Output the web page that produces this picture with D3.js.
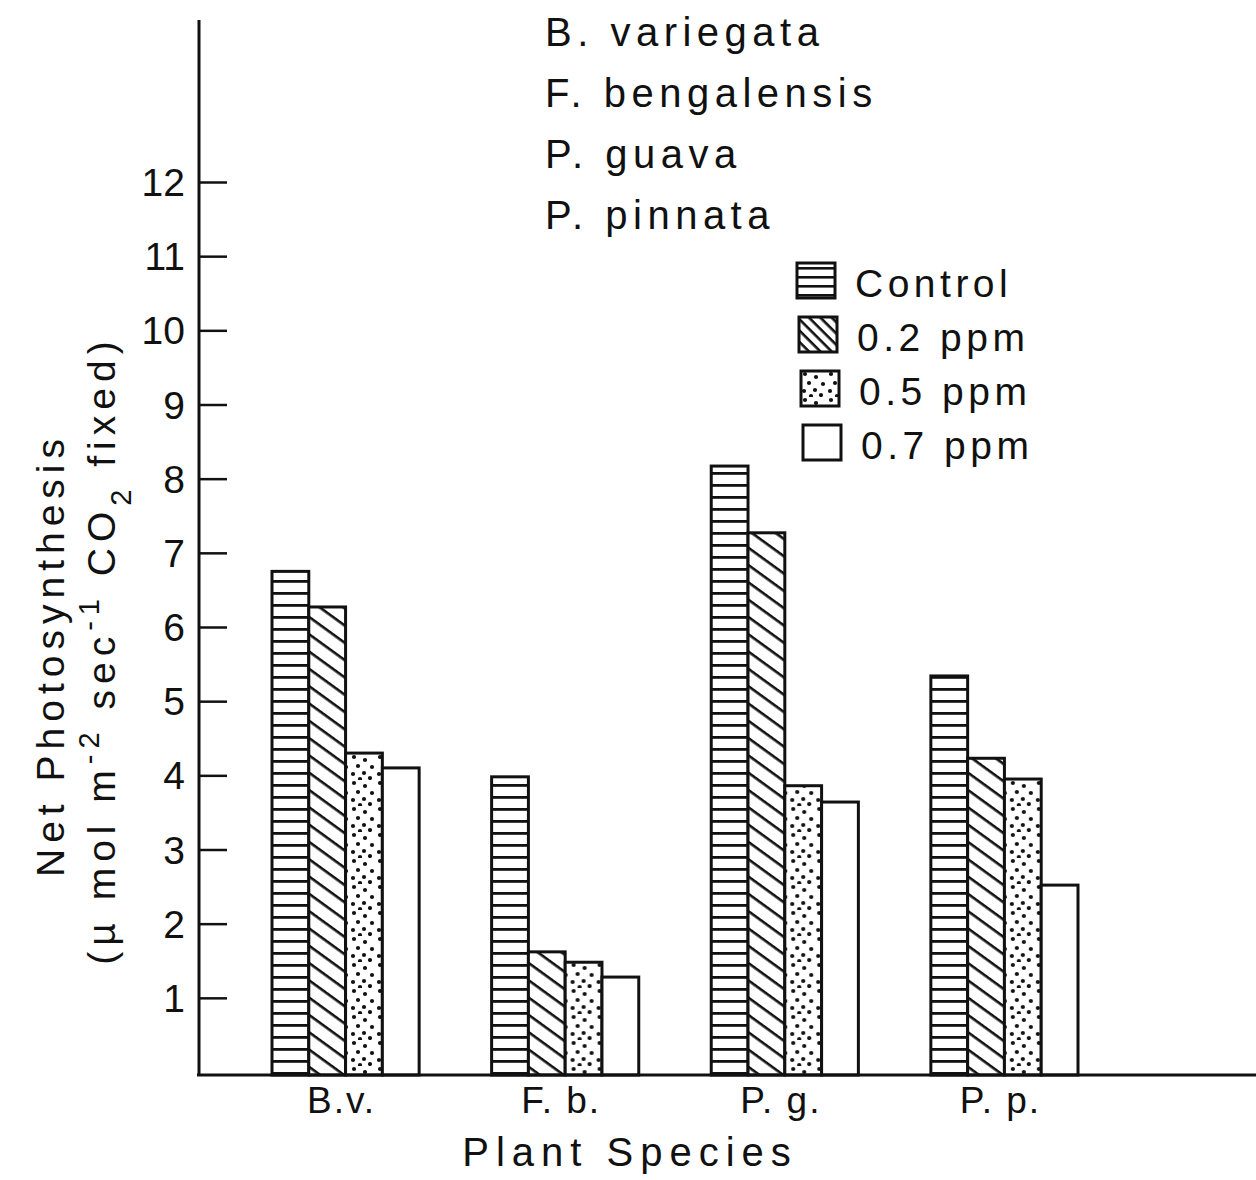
<!DOCTYPE html>
<html>
<head>
<meta charset="utf-8">
<script src="https://cdn.jsdelivr.net/npm/d3@7"></script>
<style>
    body { margin: 0; background: #fff; }
    text { font-family: "Liberation Sans", "DejaVu Sans", sans-serif; fill: #111; }
</style>
</head>
<body>
<div id="chart"></div>
<script>
var species = ["B.v.", "F.b.", "P.g.", "P.p."];
var speciesLabels = ["B.v.", "F. b.", "P. g.", "P. p."];
var speciesNames = ["B. variegata", "F. bengalensis", "P. guava", "P. pinnata"];
var concentrations = ["Control", "0.2 ppm", "0.5 ppm", "0.7 ppm"];
var legendLabels = ["Control", "0.2 ppm", "0.5 ppm", "0.7 ppm"];

var controlValues = [6.75, 3.98, 8.17, 5.34];
var ppm02Values = [6.27, 1.62, 7.27, 4.23];
var ppm05Values = [4.3, 1.48, 3.86, 3.95];
var ppm07Values = [4.1, 1.28, 3.64, 2.52];

var yTicks = [1, 2, 3, 4, 5, 6, 7, 8, 9, 10, 11, 12];

function drawChart() {
    var width = 1256, height = 1180;
    var ink = "#111";

    var svg = d3.select("#chart")
        .append("svg")
        .attr("width", width)
        .attr("height", height);

    var defs = svg.append("defs");

    // fills for the four treatments
    var stripes = defs.append("pattern")
        .attr("id", "stripes")
        .attr("patternUnits", "userSpaceOnUse")
        .attr("width", 20).attr("height", 12)
        .attr("y", 4);
    stripes.append("rect").attr("width", 20).attr("height", 12).attr("fill", "#fff");
    stripes.append("rect").attr("y", 0).attr("width", 20).attr("height", 2.8).attr("fill", ink);

    var hatch = defs.append("pattern")
        .attr("id", "hatch")
        .attr("patternUnits", "userSpaceOnUse")
        .attr("width", 20).attr("height", 14)
        .attr("patternTransform", "rotate(36)");
    hatch.append("rect").attr("width", 20).attr("height", 14).attr("fill", "#fff");
    hatch.append("rect").attr("width", 20).attr("height", 2.6).attr("fill", ink);

    var dots = defs.append("pattern")
        .attr("id", "dots")
        .attr("patternUnits", "userSpaceOnUse")
        .attr("width", 26).attr("height", 26);
    dots.append("rect").attr("width", 26).attr("height", 26).attr("fill", "#fff");
    [[4, 3], [15, 6], [22, 13], [8, 12], [3, 20], [14, 19], [20, 24], [10, 25]].forEach(function (p) {
        dots.append("circle").attr("cx", p[0]).attr("cy", p[1]).attr("r", 2.1).attr("fill", ink);
    });

    var smallStripes = defs.append("pattern")
        .attr("id", "smallStripes")
        .attr("patternUnits", "userSpaceOnUse")
        .attr("width", 20).attr("height", 9)
        .attr("y", 4);
    smallStripes.append("rect").attr("width", 20).attr("height", 9).attr("fill", "#fff");
    smallStripes.append("rect").attr("width", 20).attr("height", 2.6).attr("fill", ink);

    var smallHatch = defs.append("pattern")
        .attr("id", "smallHatch")
        .attr("patternUnits", "userSpaceOnUse")
        .attr("width", 20).attr("height", 8)
        .attr("patternTransform", "rotate(45)");
    smallHatch.append("rect").attr("width", 20).attr("height", 8).attr("fill", "#fff");
    smallHatch.append("rect").attr("width", 20).attr("height", 2.6).attr("fill", ink);

    var fills = ["url(#stripes)", "url(#hatch)", "url(#dots)", "#fff"];
    var legendFills = ["url(#smallStripes)", "url(#smallHatch)", "url(#dots)", "#fff"];

    // scales
    var y = d3.scaleLinear()
        .domain([0, 12])
        .range([1072, 182]);

    var x = d3.scaleBand()
        .domain(species)
        .range([272, 1078])
        .paddingInner(0.33)
        .paddingOuter(0);

    var xSub = d3.scaleBand()
        .domain(concentrations)
        .range([0, x.bandwidth()]);

    var series = [controlValues, ppm02Values, ppm05Values, ppm07Values];
    var rows = species.map(function (s, i) {
        return {
            name: s,
            values: concentrations.map(function (c, j) {
                return { key: c, value: series[j][i], fill: fills[j] };
            })
        };
    });

    // bars
    var groups = svg.selectAll(".group")
        .data(rows)
        .enter()
        .append("g")
        .attr("class", "group")
        .attr("transform", function (d) { return "translate(" + x(d.name) + ",0)"; });

    groups.selectAll("rect")
        .data(function (d) { return d.values; })
        .enter()
        .append("rect")
        .attr("x", function (d) { return xSub(d.key); })
        .attr("y", function (d) { return y(d.value); })
        .attr("width", xSub.bandwidth())
        .attr("height", function (d) { return y(0) + 3 - y(d.value); })
        .attr("fill", function (d) { return d.fill; })
        .attr("stroke", ink)
        .attr("stroke-width", 3);

    // y axis
    var yAxis = svg.append("g")
        .attr("transform", "translate(199,0)")
        .call(d3.axisRight(y).tickValues(yTicks).tickSize(28).tickFormat(""));
    yAxis.select(".domain").remove();
    yAxis.selectAll(".tick line").attr("stroke", ink).attr("stroke-width", 2.5);

    svg.append("line")
        .attr("x1", 199).attr("x2", 199)
        .attr("y1", 20).attr("y2", y(0) + 3)
        .attr("stroke", ink).attr("stroke-width", 3);

    svg.selectAll(".ytick")
        .data(yTicks)
        .enter()
        .append("text")
        .attr("class", "ytick")
        .attr("x", 185)
        .attr("y", function (d) { return y(d) + 14; })
        .attr("text-anchor", "end")
        .style("font-size", "39px")
        .text(function (d) { return d; });

    // x axis
    svg.append("line")
        .attr("x1", 197).attr("x2", width)
        .attr("y1", y(0) + 3).attr("y2", y(0) + 3)
        .attr("stroke", ink).attr("stroke-width", 3);

    svg.selectAll(".xlabel")
        .data(species)
        .enter()
        .append("text")
        .attr("class", "xlabel")
        .attr("x", function (d) { return x(d) + x.bandwidth() / 2 - 4; })
        .attr("y", 1113)
        .attr("text-anchor", "middle")
        .style("font-size", "37px")
        .style("letter-spacing", "2px")
        .text(function (d, i) { return speciesLabels[i]; });

    svg.append("text")
        .attr("x", 630)
        .attr("y", 1166)
        .attr("text-anchor", "middle")
        .style("font-size", "40px")
        .style("letter-spacing", "7px")
        .text("Plant Species");

    // y titles
    svg.append("text")
        .attr("transform", "translate(64,655) rotate(-90)")
        .attr("text-anchor", "middle")
        .style("font-size", "39px")
        .style("letter-spacing", "6px")
        .text("Net Photosynthesis");

    var unit = svg.append("text")
        .attr("transform", "translate(115,650) rotate(-90)")
        .attr("text-anchor", "middle")
        .style("font-size", "39px")
        .style("letter-spacing", "6px");
    unit.append("tspan").text("(\u00b5 mol m");
    unit.append("tspan").attr("baseline-shift", "super").style("font-size", "29px").text("-2");
    unit.append("tspan").text(" sec");
    unit.append("tspan").attr("baseline-shift", "super").style("font-size", "29px").text("-1");
    unit.append("tspan").text(" CO");
    unit.append("tspan").attr("baseline-shift", "sub").style("font-size", "29px").text("2");
    unit.append("tspan").text(" fixed)");

    // species names
    svg.selectAll(".speciesName")
        .data(speciesNames)
        .enter()
        .append("text")
        .attr("class", "speciesName")
        .attr("x", 545)
        .attr("y", function (d, i) { return 46 + i * 61; })
        .style("font-size", "40px")
        .style("letter-spacing", "5.5px")
        .text(function (d) { return d; });

    // legend
    var legend = svg.selectAll(".legend")
        .data(legendLabels)
        .enter()
        .append("g")
        .attr("class", "legend")
        .attr("transform", function (d, i) { return "translate(" + (797 + i * 2) + "," + (263 + i * 54) + ")"; });

    legend.append("rect")
        .attr("width", 38).attr("height", 35)
        .attr("fill", function (d, i) { return legendFills[i]; })
        .attr("stroke", ink)
        .attr("stroke-width", 3);

    legend.append("text")
        .attr("x", 58)
        .attr("y", 34)
        .style("font-size", "39px")
        .style("letter-spacing", "4.5px")
        .text(function (d) { return d; });
}

drawChart();
</script>
</body>
</html>
